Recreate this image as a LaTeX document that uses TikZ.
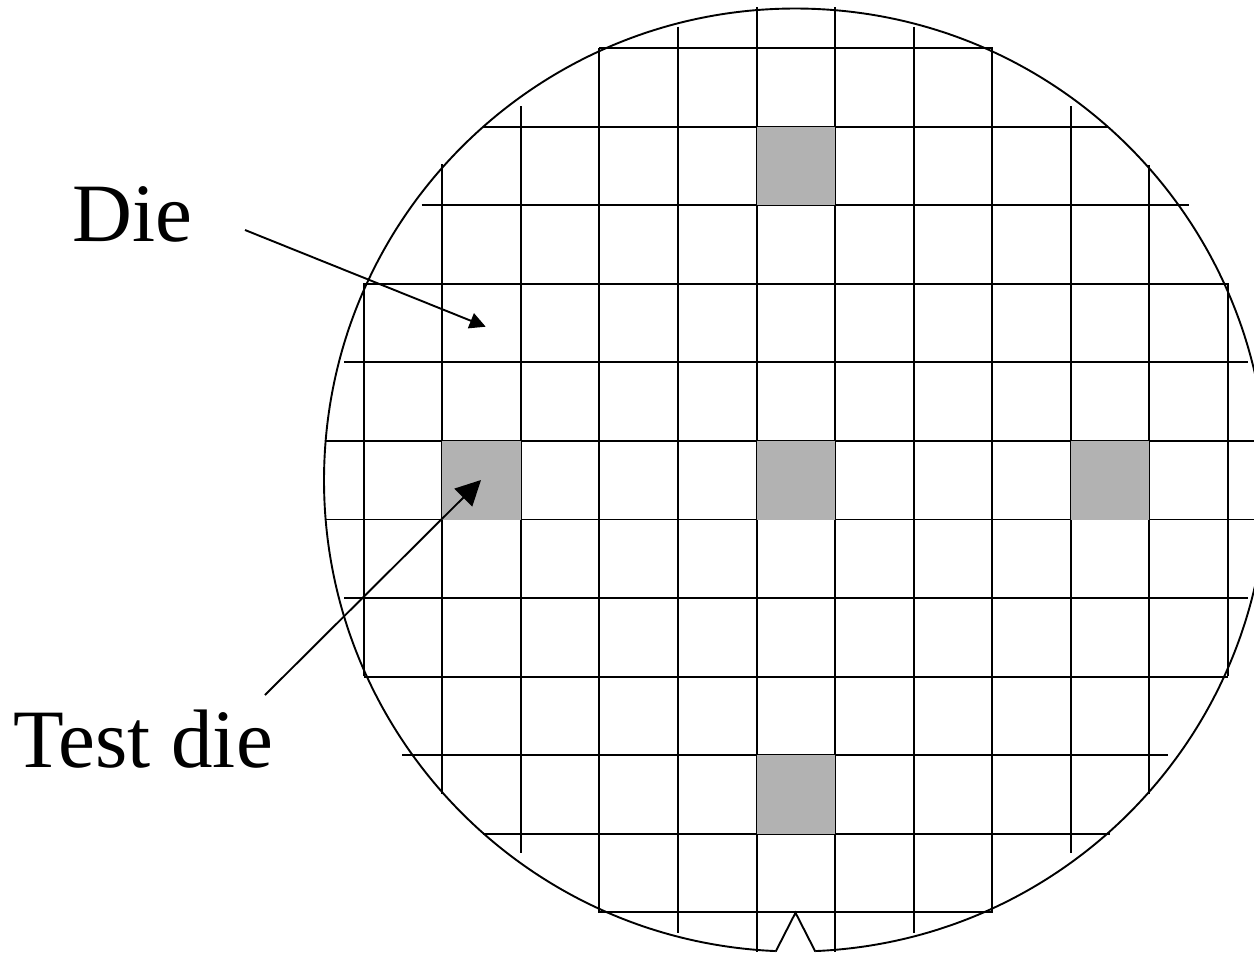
\documentclass[tikz,border=0pt]{standalone}
\usepackage{fontspec}
\setmainfont{Liberation Serif}
\usetikzlibrary{arrows.meta}
\definecolor{diegray}{RGB}{178,178,178}
\tikzset{
  gridline/.style={line width=1.9pt},
  wafer/.style={line width=1.9pt},
  testcell/.style={fill=diegray},
  lbltext/.style={inner sep=0pt, anchor=base west, font=\fontsize{83}{90}\selectfont},
  pointer/.style={line width=1.9pt},
}
\begin{document}
\begin{tikzpicture}[x=1pt,y=-1pt]
\useasboundingbox (0,0) rectangle (1254,954);
\begin{scope}
\clip (0,0) rectangle (1254,954);
% horizontal grid lines
\foreach \j/\a/\b in {0/599.3/993, 1/482.7/1108, 2/421.7/1189, 3/363.7/1228,
  4/344.3/1247.7, 5/324.7/1266, 6/324.7/1266, 7/344/1247.7, 8/363.7/1228,
  9/402.3/1168, 10/483.3/1110, 11/598.3/992.7}
  \draw[gridline] (\a, 48.2+78.55*\j) -- (\b, 48.2+78.55*\j);
% vertical grid lines
\foreach \i/\a/\b in {0/283/676, 1/164.3/794.3, 2/106/853.3, 3/48.3/912,
  4/26.7/932.7, 5/7.3/951.7, 6/7.3/951.7, 7/26.7/932.7, 8/48.3/913,
  9/106/853.3, 10/165/794.3, 11/283.3/676}
  \draw[gridline] (363.7+78.57*\i, \a) -- (363.7+78.57*\i, \b);
% test dice
\foreach \i/\j in {5/1, 1/5, 5/5, 9/5, 5/9}
  \path[testcell] (363.7+78.57*\i, 48.2+78.55*\j) rectangle ++(78.57,78.55);
% wafer outline with notch
\draw[wafer] (795.5,480) ++(92.41:471.5) arc[start angle=92.41, end angle=447.59, radius=471.5];
\draw[wafer] (775.7,951.5) -- (795.5,912.7) -- (815.3,951.5);
\end{scope}
% labels
\node[lbltext] (dieLabel) at (72.3,241.7) {Die};
\node[lbltext] (testLabel) at (13.4,767.3) {Test die};
% pointers
\coordinate (dieTail) at (245,230);
\coordinate (dieTip) at (485.7,326.7);
\coordinate (testTail) at (265,695);
\coordinate (testTip) at (481,480);
\draw[pointer, -{Triangle[length=16pt,width=16pt]}] (dieTail) -- (dieTip);
\draw[pointer, -{Triangle[length=25pt,width=25pt]}] (testTail) -- (testTip);
\end{tikzpicture}
\end{document}
